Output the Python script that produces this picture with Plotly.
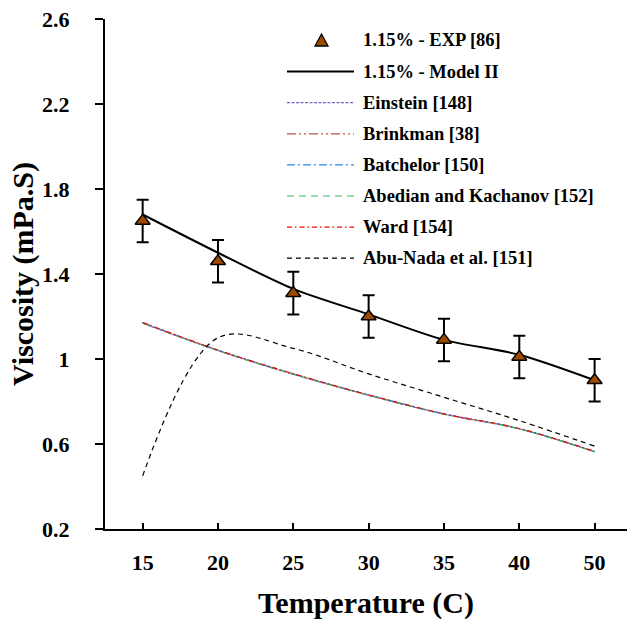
import plotly.graph_objects as go

# Temperature categories (evenly spaced on the axis)
temperature = ["15", "20", "25", "30", "35", "40", "50"]

# Experimental viscosity, 1.15% (mPa.S) with error bars
exp_visc = [1.65, 1.46, 1.31, 1.20, 1.09, 1.01, 0.90]
exp_err = [0.10, 0.10, 0.10, 0.10, 0.10, 0.10, 0.10]

# Model II prediction
model_ii = [1.68, 1.50, 1.33, 1.21, 1.09, 1.02, 0.90]

# Classical correlations
einstein = [1.168, 1.039, 0.928, 0.829, 0.740, 0.671, 0.563]
brinkman = [1.170, 1.041, 0.929, 0.830, 0.741, 0.672, 0.564]
batchelor = [1.171, 1.041, 0.930, 0.831, 0.742, 0.672, 0.564]
abedian = [1.170, 1.040, 0.929, 0.830, 0.741, 0.671, 0.564]
ward = [1.172, 1.042, 0.931, 0.831, 0.742, 0.673, 0.565]
abu_nada = [0.45, 1.10, 1.05, 0.93, 0.82, 0.71, 0.59]

y_ticks = [0.2, 0.6, 1.0, 1.4, 1.8, 2.2, 2.6]
y_tick_labels = ["0.2", "0.6", "1", "1.4", "1.8", "2.2", "2.6"]

FONT = "Liberation Serif"
EXP_COLOR = "#9E4B00"

# name, values, colour, width, dash
correlations = [
    ("Einstein [148]", einstein, "#7B5FC9", 1.2, "3px,1.5px"),
    ("Brinkman [38]", brinkman, "#C0504D", 1.2, "9px,3px,2px,3px,2px,3px"),
    ("Batchelor [150]", batchelor, "#2E8BE0", 1.2, "8px,3px,2px,3px"),
    ("Abedian and Kachanov [152]", abedian, "#2FBF6A", 1.2, "7px,5px"),
    ("Ward [154]", ward, "#FF0000", 1.2, "5px,3px,1.5px,3px"),
    ("Abu-Nada et al. [151]", abu_nada, "#000000", 1.2, "5px,4px"),
]

fig = go.Figure()

for name, vals, color, width, dash in correlations:
    fig.add_trace(go.Scatter(
        x=temperature, y=vals, mode="lines", name=name,
        line=dict(color=color, width=width, dash=dash, shape="spline", smoothing=1.0),
        showlegend=False,
    ))

fig.add_trace(go.Scatter(
    x=temperature, y=model_ii, mode="lines", name="1.15% - Model II",
    line=dict(color="black", width=2, shape="spline", smoothing=0.8),
    showlegend=False,
))

fig.add_trace(go.Scatter(
    x=temperature, y=exp_visc, mode="markers", name="1.15% - EXP [86]",
    marker=dict(symbol="triangle-up", size=13, color=EXP_COLOR,
                line=dict(color="black", width=1.5)),
    error_y=dict(type="data", array=exp_err, visible=True,
                 color="black", thickness=2, width=6),
    showlegend=False,
))

# Figure size and plotting-area margins (pixels)
W, H = 627, 620
M_L, M_R, M_T, M_B = 105, 0, 19, 91
PLOT_W = W - M_L - M_R
PLOT_H = H - M_T - M_B

def px(x):
    # figure pixel x -> paper fraction of the plotting area
    return (x - M_L) / PLOT_W

def py(y):
    # figure pixel y -> paper fraction of the plotting area
    return (H - M_B - y) / PLOT_H

# Hand-built legend block in the upper right of the plotting area
legend_entries = [("1.15% - EXP [86]", None, None, None),
                  ("1.15% - Model II", "black", 2, "solid")]
legend_entries += [(n, c, w, d) for n, _, c, w, d in correlations]

row_top = 40.5
row_gap = 31.1
line_x0, line_x1 = 287, 354
text_x = 361

shapes = []
annotations = []
for i, (label, color, width, dash) in enumerate(legend_entries):
    yc = row_top + i * row_gap
    if color is None:
        cx = 321.5
        path = (f"M {px(cx - 6.5)} {py(yc + 5.5)} L {px(cx + 6.5)} {py(yc + 5.5)} "
                f"L {px(cx)} {py(yc - 6.5)} Z")
        shapes.append(dict(type="path", xref="paper", yref="paper", path=path,
                           fillcolor=EXP_COLOR, line=dict(color="black", width=1.3)))
    else:
        shapes.append(dict(type="line", xref="paper", yref="paper",
                           x0=px(line_x0), x1=px(line_x1), y0=py(yc), y1=py(yc),
                           line=dict(color=color, width=width, dash=dash)))
    annotations.append(dict(xref="paper", yref="paper", x=px(text_x), y=py(yc),
                            xanchor="left", yanchor="middle", showarrow=False,
                            text=f"<b>{label}</b>",
                            font=dict(family=FONT, size=18.5, color="black")))

fig.update_layout(
    width=W, height=H,
    margin=dict(l=M_L, r=M_R, t=M_T, b=M_B),
    paper_bgcolor="white", plot_bgcolor="white",
    font=dict(family=FONT, color="black"),
    shapes=shapes, annotations=annotations,
    xaxis=dict(
        type="category", range=[-0.5, 6.43],
        tickvals=temperature, ticktext=[f"<b>{t}</b>" for t in temperature],
        showline=True, linecolor="black", linewidth=2.2,
        ticks="inside", ticklen=6, tickwidth=2, tickcolor="black",
        showgrid=False, zeroline=False,
        tickfont=dict(family=FONT, size=22, color="black"),
        ticklabelstandoff=12,
        title=dict(text="<b>Temperature (C)</b>", standoff=21,
                   font=dict(family=FONT, size=30, color="black")),
    ),
    yaxis=dict(
        range=[0.2, 2.6], tickvals=y_ticks,
        ticktext=[f"<b>{t}</b>" for t in y_tick_labels],
        showline=True, linecolor="black", linewidth=2.2,
        ticks="outside", ticklen=8, tickwidth=2, tickcolor="black",
        showgrid=False, zeroline=False,
        tickfont=dict(family=FONT, size=22, color="black"),
        ticklabelstandoff=21,
        title=dict(text="<b>Viscosity (mPa.S)</b>", standoff=0,
                   font=dict(family=FONT, size=30, color="black")),
    ),
)

fig.write_html("out.html")
